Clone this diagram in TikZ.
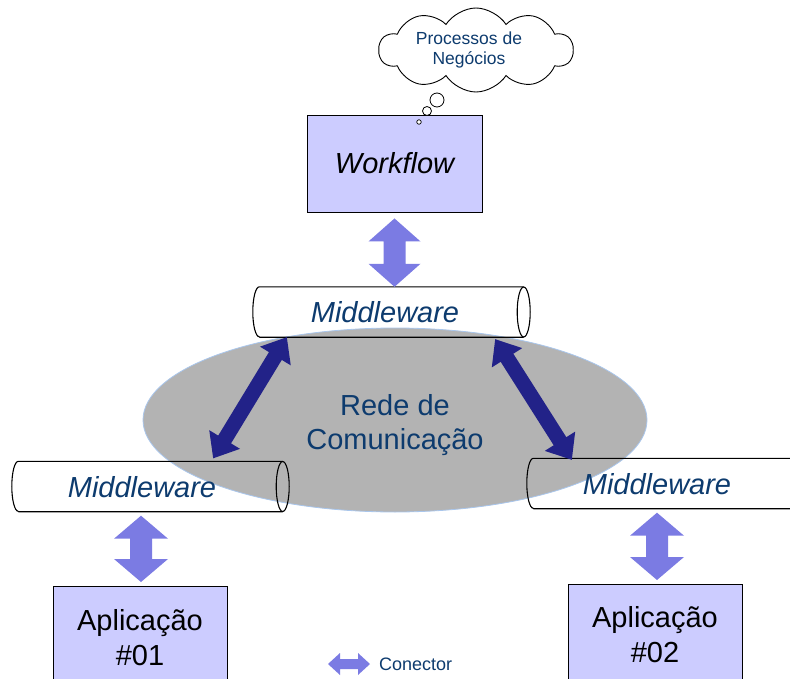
\documentclass[tikz,border=0pt]{standalone}
\usepackage{fontspec}
\setmainfont{Liberation Sans}
\usetikzlibrary{calc,shapes.geometric,shapes.symbols}

\definecolor{boxfill}{HTML}{CCCCFF}
\definecolor{lightarrow}{HTML}{7B7BE3}
\definecolor{darkarrow}{HTML}{222288}
\definecolor{netgray}{HTML}{B3B3B3}
\definecolor{netedge}{HTML}{A9C6EC}
\definecolor{navytext}{HTML}{0D3B6E}

\tikzset{
  bigfont/.style={font=\fontsize{29}{35}\selectfont},
  boxnode/.style={draw=black, line width=0.9pt, fill=boxfill, inner sep=0pt,
    align=center, bigfont},
  cylframe/.style={inner sep=0pt, minimum width=277pt, minimum height=50pt},
  cylline/.style={draw=black, line width=1.1pt},
  mwtext/.style={inner sep=0pt, text=navytext, font=\fontsize{29}{35}\selectfont\itshape},
  bubble/.style={circle, draw=black, line width=0.8pt, fill=white, inner sep=0pt},
  lightconn/.style={fill=lightarrow},
  darkconn/.style={fill=darkarrow},
}

% outline of a lying cylinder: open left end, full ellipse on the right
\newcommand\cylout[1]{%
  \draw[cylline] ([xshift=6.5pt]#1.north west) -- ([xshift=-6.5pt]#1.north east)
    ([xshift=6.5pt]#1.south west) -- ([xshift=-6.5pt]#1.south east)
    ([xshift=6.5pt]#1.north west) arc[start angle=90, end angle=270, x radius=6.5pt, y radius=25pt];
  \draw[cylline] ([xshift=-6.5pt]#1.east) ellipse[x radius=6.5pt, y radius=25pt];
}

% block double arrow: style, from, to, head length, head half-width, shaft half-width
\newcommand\blockarrow[6]{%
  \path ($#2!#4!#3$) coordinate (ba-h1) ($#3!#4!#2$) coordinate (ba-h2);
  \fill[#1] #2 -- ($(ba-h1)!#5!90:#3$) -- ($(ba-h1)!#6!90:#3$)
    -- ($(ba-h2)!#6!-90:#2$) -- ($(ba-h2)!#5!-90:#2$) -- #3
    -- ($(ba-h2)!#5!90:#2$) -- ($(ba-h2)!#6!90:#2$)
    -- ($(ba-h1)!#6!-90:#3$) -- ($(ba-h1)!#5!-90:#3$) -- cycle;
}

\begin{document}
\begin{tikzpicture}[x=1pt, y=-1pt]
\useasboundingbox (0,0) rectangle (790,679);
\clip (0,0) rectangle (790,679);

% thought cloud
\node[cloud, draw=black, line width=0.9pt, fill=white, cloud puffs=10,
  cloud puff arc=115, aspect=2.3, minimum width=194pt, minimum height=84pt,
  inner sep=0pt] (cloud) at (476,50) {};
\node[align=center, text=navytext, inner sep=0pt,
  font=\fontsize{17.5}{20}\selectfont] (cloudtxt) at (469,50) {Processos de\\Negócios};

% workflow engine
\node[boxnode, minimum width=175pt, minimum height=97pt, font=\fontsize{29}{35}\selectfont\itshape]
  (wf) at (394.5,163.5) {Workflow};

% thought bubbles rising from the workflow box
\node[bubble, minimum size=14pt] (b1) at (437,100) {};
\node[bubble, minimum size=9pt] (b2) at (427,111) {};
\node[bubble, minimum size=4.5pt, line width=0.7pt] (b3) at (419,122) {};

% communication network
\node[ellipse, fill=netgray, draw=netedge, line width=0.8pt, inner sep=0pt,
  minimum width=504pt, minimum height=184pt] (net) at (395,420) {};
\node[align=center, text=navytext, inner sep=0pt,
  font=\fontsize{29}{34}\selectfont] (nettxt) at (395,425) {Rede de\\Comunicação};

% middleware pipes
\node[cylframe] (mwtop) at (391.5,312) {};
\node[cylframe] (mwleft) at (150.5,486.5) {};
\node[cylframe] (mwright) at (665.5,483.5) {};
\cylout{mwtop}
\cylout{mwleft}
\cylout{mwright}
\node[mwtext] (mwtoptxt) at (385,312.5) {Middleware};
\node[mwtext] (mwlefttxt) at (142,487) {Middleware};
\node[mwtext] (mwrighttxt) at (657,484) {Middleware};

% applications
\node[boxnode, minimum width=174pt, minimum height=103pt, anchor=north]
  (app1) at (140,586) {Aplicação\\\#01};
\node[boxnode, minimum width=174pt, minimum height=101pt, anchor=north]
  (app2) at (655,584) {Aplicação\\\#02};

% connectors
\blockarrow{lightconn}{([yshift=-6pt]wf.south)}{(wf.south |- mwtop.north)}{23pt}{26pt}{11pt}
\blockarrow{lightconn}{($(app1.north |- mwleft.south)+(1pt,-4pt)$)}{([xshift=1pt,yshift=4pt]app1.north)}{23pt}{27pt}{11pt}
\blockarrow{lightconn}{($(app2.north |- mwright.south)+(2pt,-4pt)$)}{([xshift=2pt,yshift=4pt]app2.north)}{23pt}{27pt}{11pt}
\blockarrow{darkconn}{($(mwtop.south west)+(34pt,0pt)$)}{($(mwleft.north east)+(-76pt,3pt)$)}{22pt}{18pt}{7.5pt}
\blockarrow{darkconn}{($(mwtop.south east)+(-35pt,-2pt)$)}{($(mwright.north west)+(45pt,-1.5pt)$)}{22pt}{18pt}{7.5pt}

% legend
\node[anchor=west, inner sep=0pt, text=navytext, font=\fontsize{18}{21}\selectfont]
  (legtxt) at (379,664) {Conector};
\coordinate (legA) at (328,664);
\coordinate (legB) at (370,664);
\blockarrow{lightconn}{(legA)}{(legB)}{12pt}{11pt}{5pt}
\end{tikzpicture}
\end{document}
